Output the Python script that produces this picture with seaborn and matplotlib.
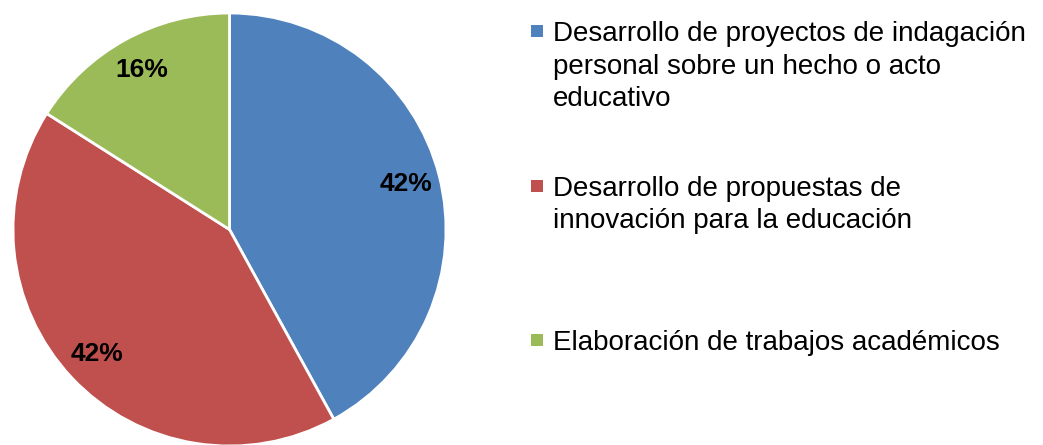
import matplotlib
matplotlib.use("Agg")
import matplotlib.pyplot as plt
import seaborn as sns
from matplotlib.patches import Rectangle

# --- data ---
categories = [
    "Desarrollo de proyectos de indagación\npersonal sobre un hecho o acto\neducativo",
    "Desarrollo de propuestas de\ninnovación para la educación",
    "Elaboración de trabajos académicos",
]
values = [42, 42, 16]
colors = ["#4F81BD", "#C0504D", "#9BBB59"]

sns.set_theme(style="white")
plt.rcParams["font.family"] = ["Liberation Sans", "DejaVu Sans"]

W, H = 1043, 445
fig = plt.figure(figsize=(W / 100, H / 100), dpi=100)
fig.patch.set_facecolor("white")

# pie axes: square box in pixels
cx, cy, r = 229.5, 229.5, 216.5
ax = fig.add_axes([(cx - r) / W, (H - cy - r) / H, 2 * r / W, 2 * r / H])
wedges, texts, autotexts = ax.pie(
    values,
    colors=colors,
    startangle=90,
    counterclock=False,
    autopct=lambda p: f"{p:.0f}%",
    pctdistance=0.84,
    wedgeprops=dict(edgecolor="white", linewidth=2),
    textprops=dict(fontsize=19, fontweight="bold", color="black"),
)
ax.set_xlim(-1, 1)
ax.set_ylim(-1, 1)
ax.set_aspect("equal")
ax.axis("off")

# legend drawn by hand so the marker sits on the first line
line_step = 32.5
first_baselines = [41, 196, 350]
for label, col, base in zip(categories, colors, first_baselines):
    fig.patches.append(Rectangle((531 / W, (H - base + 4) / H), 12 / W, 12 / H,
                                 transform=fig.transFigure, facecolor=col,
                                 edgecolor="none"))
    for i, line in enumerate(label.split("\n")):
        fig.text(553 / W, (H - base - i * line_step) / H, line,
                 fontsize=20, va="baseline", ha="left", color="black")

fig.savefig("out.png", dpi=100)
